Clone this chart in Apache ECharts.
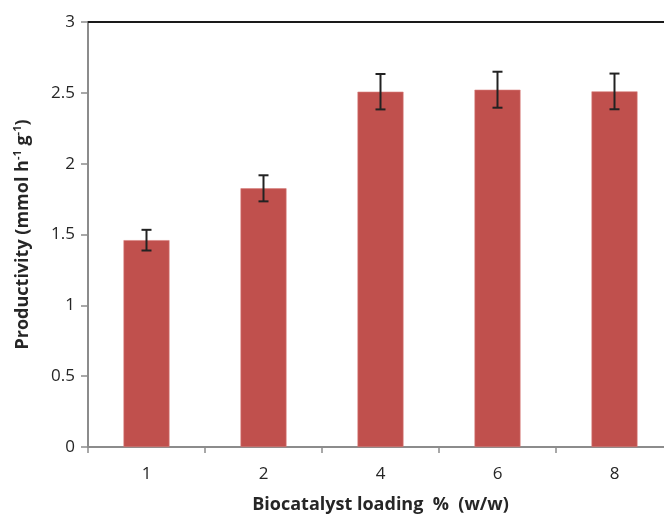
<!DOCTYPE html>
<html>
<head>
<meta charset="utf-8">
<script src="https://cdn.jsdelivr.net/npm/echarts@6/dist/echarts.min.js"></script>
<style>
  html, body { margin: 0; padding: 0; background: #fff; }
  #chart { width: 664px; height: 516px; }
</style>
</head>
<body>
<div id="chart"></div>
<script>
// Biocatalyst loading (% w/w) vs. productivity, with standard-deviation error bars
const categories = ['1', '2', '4', '6', '8'];
const productivity = [1.46, 1.826, 2.508, 2.522, 2.51];
const errors = [0.073, 0.092, 0.125, 0.127, 0.126];
const yTicks = [0, 0.5, 1, 1.5, 2, 2.5, 3];

const FONT = 'Open Sans';
const chart = echarts.init(document.getElementById('chart'), null, { renderer: 'canvas' });

const errorData = categories.map((c, i) => [i, productivity[i] - errors[i], productivity[i] + errors[i]]);

chart.setOption({
  animation: false,
  backgroundColor: '#ffffff',
  textStyle: { fontFamily: FONT },
  // plot area runs slightly past the right edge of the canvas
  grid: { left: 88, width: 585, top: 22, height: 425, containLabel: false, outerBoundsMode: 'none' },
  xAxis: [
    {
      type: 'category',
      data: categories,
      position: 'bottom',
      axisLine: { show: true, lineStyle: { color: '#8c8c8c', width: 2 } },
      axisTick: { show: true, alignWithLabel: false, length: 6, lineStyle: { color: '#8c8c8c', width: 1.5 } },
      axisLabel: { margin: 19, fontSize: 17, color: '#262626', fontFamily: FONT },
      name: 'Biocatalyst loading  %  (w/w)',
      nameLocation: 'middle',
      nameGap: 49,
      nameTextStyle: { fontSize: 18, fontWeight: 'bold', color: '#262626', fontFamily: FONT }
    },
    {
      // top frame line
      type: 'category',
      data: categories,
      position: 'top',
      axisLine: { show: true, lineStyle: { color: '#1a1a1a', width: 2 } },
      axisTick: { show: false },
      axisLabel: { show: false }
    }
  ],
  yAxis: {
    type: 'value',
    min: yTicks[0],
    max: yTicks[yTicks.length - 1],
    interval: 0.5,
    axisLine: { show: true, lineStyle: { color: '#8c8c8c', width: 2 } },
    axisTick: { show: true, inside: false, length: 7, lineStyle: { color: '#8c8c8c', width: 1.5 } },
    splitLine: { show: false },
    axisLabel: { margin: 13, fontSize: 17, color: '#262626', fontFamily: FONT },
    name: '{b|Productivity (mmol h}{s|-1}{b| g}{s|-1}{b|)}',
    nameLocation: 'middle',
    nameRotate: 90,
    nameGap: 56,
    nameTextStyle: {
      color: '#262626',
      fontFamily: FONT,
      rich: {
        b: { fontSize: 18, fontWeight: 'bold', color: '#262626', fontFamily: FONT, verticalAlign: 'bottom' },
        s: { fontSize: 11, fontWeight: 'bold', color: '#262626', fontFamily: FONT, verticalAlign: 'top', padding: [0, 0, 9, 0] }
      }
    }
  },
  series: [
    {
      type: 'bar',
      data: productivity,
      barWidth: 46,
      itemStyle: { color: '#C0504D', borderColor: '#d9807e', borderWidth: 0.6 }
    },
    {
      type: 'custom',
      data: errorData,
      z: 10,
      renderItem: function (params, api) {
        const x = api.value(0);
        const lo = api.coord([x, api.value(1)]);
        const hi = api.coord([x, api.value(2)]);
        const half = 5;
        const style = { stroke: '#222222', lineWidth: 2 };
        return {
          type: 'group',
          children: [
            { type: 'line', shape: { x1: lo[0], y1: lo[1], x2: hi[0], y2: hi[1] }, style: style },
            { type: 'line', shape: { x1: lo[0] - half, y1: lo[1], x2: lo[0] + half, y2: lo[1] }, style: style },
            { type: 'line', shape: { x1: hi[0] - half, y1: hi[1], x2: hi[0] + half, y2: hi[1] }, style: style }
          ]
        };
      }
    }
  ]
});
</script>
</body>
</html>
